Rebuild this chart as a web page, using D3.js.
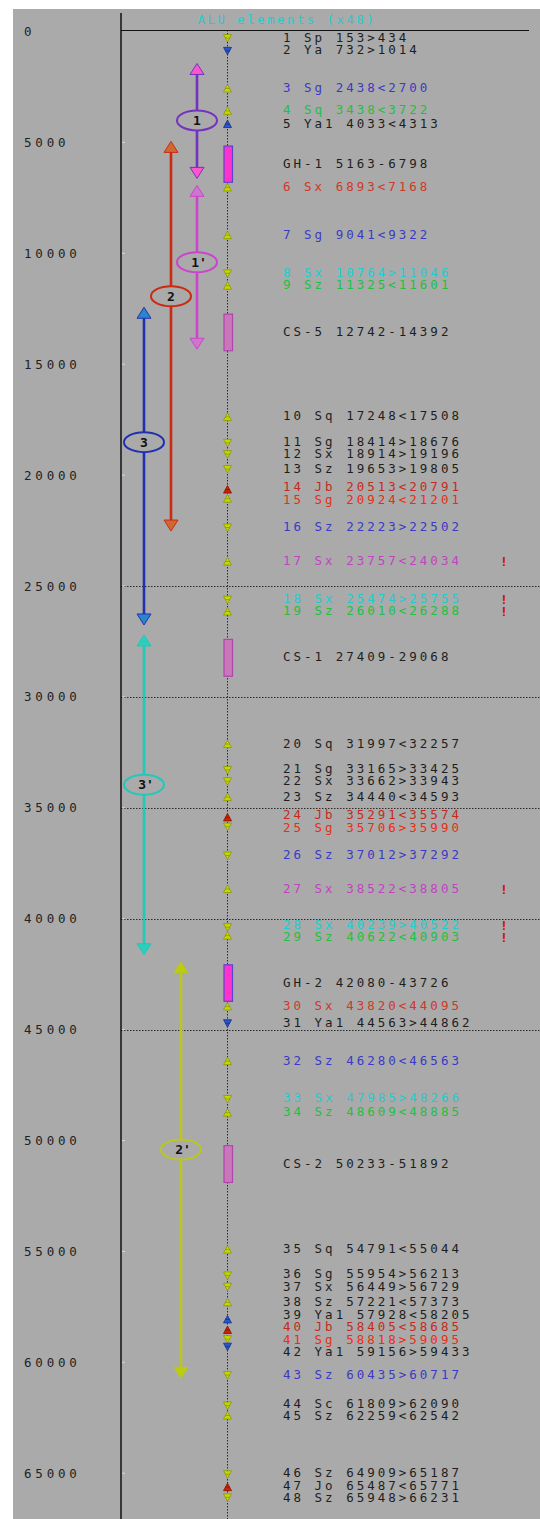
<!DOCTYPE html>
<html>
<head>
<meta charset="utf-8">
<script src="https://cdn.jsdelivr.net/npm/d3@7/dist/d3.min.js"></script>
<style>
  html, body { margin: 0; padding: 0; background: #ffffff; }
  svg { display: block; }
  text { font-family: "DejaVu Sans Mono", monospace; }
</style>
</head>
<body>
<script>
// ALU element map of the GH/CS locus (coordinates in bp)
const aluNumber = d3.range(1, 49);
const aluFamily = ["Sp","Ya","Sg","Sq","Ya1","Sx","Sg","Sx","Sz","Sq","Sg","Sx","Sz","Jb","Sg","Sz",
  "Sx","Sx","Sz","Sq","Sg","Sx","Sz","Jb","Sg","Sz","Sx","Sx","Sz","Sx","Ya1","Sz",
  "Sx","Sz","Sq","Sg","Sx","Sz","Ya1","Jb","Sg","Ya1","Sz","Sc","Sz","Sz","Jo","Sz"];
const aluStart = [153,732,2438,3438,4033,6893,9041,10764,11325,17248,18414,18914,19653,20513,20924,22223,
  23757,25474,26010,31997,33165,33662,34440,35291,35706,37012,38522,40239,40622,43820,44563,46280,
  47985,48609,54791,55954,56449,57221,57928,58405,58818,59156,60435,61809,62259,64909,65487,65948];
const aluEnd = [434,1014,2700,3722,4313,7168,9322,11046,11601,17508,18676,19196,19805,20791,21201,22502,
  24034,25755,26288,32257,33425,33943,34593,35574,35990,37292,38805,40522,40903,44095,44862,46563,
  48266,48885,55044,56213,56729,57373,58205,58685,59095,59433,60717,62090,62542,65187,65771,66231];
const aluStrand = [">",">","<","<","<","<","<",">","<","<",">",">",">","<","<",">",
  "<",">","<","<",">",">","<","<",">",">","<",">","<","<",">","<",
  ">","<","<",">",">","<","<","<",">",">",">",">","<",">","<",">"];
// colour group of each label (k = plain)
const aluGroup = ["k","k","b","g","k","r","b","c","g","k","k","k","k","d","o","b",
  "m","c","g","k","k","k","k","d","o","b","m","c","g","r","k","b",
  "c","g","k","k","k","k","k","d","o","k","b","k","k","k","k","k"];
// elements flagged with "!"
const aluFlagged = [17, 18, 19, 27, 28, 29];

// genes
const geneName = ["GH-1","CS-5","CS-1","GH-2","CS-2"];
const geneStart = [5163,12742,27409,42080,50233];
const geneEnd = [6798,14392,29068,43726,51892];

// duplicated segments
const segName = ["1","1'","2","2'","3","3'"];
const segStart = [1441,6937,4955,41937,12432,27207];
const segEnd = [6622,14324,22523,60720,26757,41622];
const segLabelAt = [4010,10405,11937,50405,18514,33964];

// axis
const yTicks = d3.range(0, 65001, 5000);
const gridTicks = [25000, 30000, 35000, 40000, 45000];
const title = "ALU elements (x48)";

const W = 540, H = 1519;
const svg = d3.select("body").append("svg").attr("width", W).attr("height", H);

const y = d3.scaleLinear().domain([0, 65000]).range([31.5, 1473.2]);

const axisX = 121, centerX = 227, labelX = 283, labelGap = 12.5;

const groupColor = d3.scaleOrdinal()
  .domain(["k","b","g","r","d","o","m","c"])
  .range(["#1e1e1e","#3a3ac4","#22c040","#d03828","#c42a1c","#ee2c14","#c044c0","#22cccc"]);

const segX = d3.scaleOrdinal().domain(segName).range([197, 197, 171, 181, 144, 144]);
const segLine = d3.scaleOrdinal().domain(segName)
  .range(["#7432c0","#cc44cc","#cc2a10","#b8c81c","#2030b0","#22c8b8"]);
const segHead = d3.scaleOrdinal().domain(segName)
  .range(["#ff55cc","#cc77cc","#cc6a34","#bccc10","#2a86cc","#2ad0bc"]);

// Spread label positions so neighbouring labels keep a minimum gap,
// keeping each crowded cluster centred on its targets.
function spreadLabels(items, gap) {
  const sorted = items.slice().sort((a, b) => a.target - b.target);
  let clusters = sorted.map(d => ({ items: [d], sum: d.target }));
  let merged = true;
  const top = c => c.sum / c.items.length - (c.items.length - 1) * gap / 2;
  while (merged) {
    merged = false;
    const out = [];
    for (const c of clusters) {
      const prev = out[out.length - 1];
      if (prev && top(prev) + prev.items.length * gap > top(c)) {
        prev.items = prev.items.concat(c.items);
        prev.sum += c.sum;
        merged = true;
      } else out.push(c);
    }
    clusters = out;
  }
  clusters.forEach(c => { const t = top(c); c.items.forEach((d, i) => { d.ly = t + i * gap; }); });
}

// panel
svg.append("rect").attr("x", 13).attr("y", 9).attr("width", W - 13).attr("height", H - 9)
  .attr("fill", "#aaaaaa");

// dotted grid lines
svg.append("g").selectAll("line").data(gridTicks).join("line")
  .attr("x1", axisX).attr("x2", W)
  .attr("y1", d => Math.round(y(d)) + 0.5).attr("y2", d => Math.round(y(d)) + 0.5)
  .attr("stroke", "#2a2a2a").attr("stroke-width", 1).attr("stroke-dasharray", "1.5,1.5");

// centre track
svg.append("line").attr("x1", centerX + 0.5).attr("x2", centerX + 0.5)
  .attr("y1", 30).attr("y2", H)
  .attr("stroke", "#2a2a2a").attr("stroke-width", 1).attr("stroke-dasharray", "1.5,1.5");

// frame lines
svg.append("line").attr("x1", axisX).attr("x2", axisX).attr("y1", 13).attr("y2", H)
  .attr("stroke", "#111").attr("stroke-width", 1.5);
svg.append("line").attr("x1", axisX).attr("x2", 529).attr("y1", 30.5).attr("y2", 30.5)
  .attr("stroke", "#111").attr("stroke-width", 1.2);

// title
svg.append("text").attr("x", 287).attr("y", 24).attr("text-anchor", "middle")
  .attr("font-size", 12).attr("letter-spacing", 2.7).attr("fill", "#22cccc").text(title);

// y tick labels
svg.append("g").selectAll("text").data(yTicks).join("text")
  .attr("x", 24).attr("y", d => y(d) + 1).attr("dominant-baseline", "middle")
  .attr("font-size", 12.5).attr("letter-spacing", 3.8).attr("fill", "#222").text(d => d);

// small axis ticks
svg.append("g").selectAll("line").data(yTicks.slice(1)).join("line")
  .attr("x1", axisX + 1).attr("x2", axisX + 4)
  .attr("y1", d => y(d)).attr("y2", d => y(d))
  .attr("stroke", "#d8d8d8").attr("stroke-width", 1);

// duplicated segments: shaft, arrowheads, ellipse label
const segs = segName.map((n, i) => ({ n, s: segStart[i], e: segEnd[i], at: segLabelAt[i] }));
const sg = svg.append("g").selectAll("g").data(segs).join("g");
sg.append("line")
  .attr("x1", d => segX(d.n)).attr("x2", d => segX(d.n))
  .attr("y1", d => y(d.s) + 8).attr("y2", d => y(d.e) - 8)
  .attr("stroke", d => segLine(d.n)).attr("stroke-width", 2.6);
sg.append("path")
  .attr("d", d => { const x = segX(d.n), t = y(d.s); return `M${x},${t} L${x + 7},${t + 11} L${x - 7},${t + 11} Z`; })
  .attr("fill", d => segHead(d.n)).attr("stroke", d => segLine(d.n)).attr("stroke-width", 1);
sg.append("path")
  .attr("d", d => { const x = segX(d.n), b = y(d.e); return `M${x},${b} L${x + 7},${b - 11} L${x - 7},${b - 11} Z`; })
  .attr("fill", d => segHead(d.n)).attr("stroke", d => segLine(d.n)).attr("stroke-width", 1);
sg.append("ellipse")
  .attr("cx", d => segX(d.n)).attr("cy", d => y(d.at)).attr("rx", 20).attr("ry", 10)
  .attr("fill", "#aaaaaa").attr("stroke", d => segLine(d.n)).attr("stroke-width", 2);
sg.append("text")
  .attr("x", d => segX(d.n) + (d.n.length > 1 ? 2 : 0)).attr("y", d => y(d.at) + 1)
  .attr("text-anchor", "middle").attr("dominant-baseline", "middle")
  .attr("font-family", "DejaVu Sans, sans-serif")
  .attr("font-size", 13).attr("font-weight", "bold").attr("fill", "#111").text(d => d.n);

// genes and ALU elements
const genes = geneName.map((n, i) => ({ n, s: geneStart[i], e: geneEnd[i] }));
const alus = aluNumber.map((k, i) => ({
  k, fam: aluFamily[i], s: aluStart[i], e: aluEnd[i], dir: aluStrand[i], grp: aluGroup[i]
}));

// label layout along the track
const labels = [
  ...genes.map(d => ({ d, target: y((d.s + d.e) / 2), text: `${d.n} ${d.s}-${d.e}`, color: groupColor("k") })),
  ...alus.map(d => ({ d, target: y((d.s + d.e) / 2), text: `${d.k} ${d.fam} ${d.s}${d.dir}${d.e}`, color: groupColor(d.grp) }))
];
spreadLabels(labels, labelGap);

svg.append("g").selectAll("rect").data(genes).join("rect")
  .attr("x", 224).attr("width", 8.5)
  .attr("y", d => y(d.s)).attr("height", d => y(d.e) - y(d.s))
  .attr("fill", d => d.n.startsWith("GH") ? "#ff33cc" : "#c878b8")
  .attr("stroke", d => d.n.startsWith("GH") ? "#5a44cc" : "#b044b0").attr("stroke-width", 1.2);

const markerFill = d => d.fam.startsWith("Y") ? "#2456cc" : d.fam.startsWith("J") ? "#cc2200" : "#c6d600";
const markerEdge = d => d.fam.startsWith("Y") ? "#1a2e90" : d.fam.startsWith("J") ? "#8a1400" : "#8c9a00";
svg.append("g").selectAll("path").data(alus).join("path")
  .attr("d", d => {
    const x = centerX + 0.5, c = y((d.s + d.e) / 2);
    const sgn = d.dir === "<" ? 1 : -1; // "<" points up, ">" points down
    const tip = c - 4 * sgn, base = c + 3.5 * sgn;
    return `M${x},${tip} L${x + 4},${base} L${x - 4},${base} Z M${x - 2.5},${c} L${x + 2.5},${c}`;
  })
  .attr("fill", markerFill).attr("stroke", markerEdge).attr("stroke-width", 0.8);

svg.append("g").selectAll("text").data(labels).join("text")
  .attr("x", labelX).attr("y", l => l.ly)
  .attr("dominant-baseline", "middle").attr("font-size", 12.5).attr("letter-spacing", 3)
  .attr("fill", l => l.color).text(l => l.text);

// "!" flags beside the flagged elements
svg.append("g").selectAll("text")
  .data(labels.filter(l => l.d.k !== undefined && aluFlagged.includes(l.d.k))).join("text")
  .attr("x", 504).attr("y", l => l.ly + 1)
  .attr("text-anchor", "middle").attr("dominant-baseline", "middle")
  .attr("font-family", "DejaVu Sans, sans-serif")
  .attr("font-size", 13).attr("font-weight", "bold").attr("fill", "#cc1100").text("!");
</script>
</body>
</html>
